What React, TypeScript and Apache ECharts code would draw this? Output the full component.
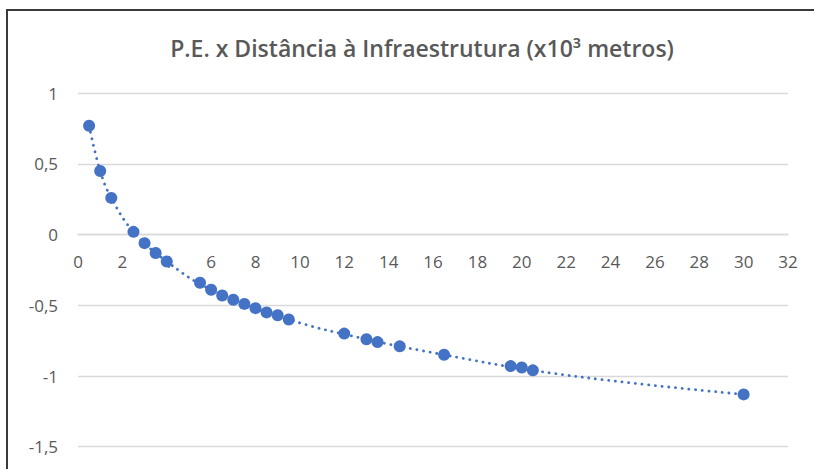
import React, { useEffect, useRef } from "react";
import * as echarts from "echarts";

const titleText = "P.E. x Distância à Infraestrutura (x10³ metros)";
const distances = [0.5, 1, 1.5, 2.5, 3, 3.5, 4, 5.5, 6, 6.5, 7, 7.5, 8, 8.5, 9, 9.5, 12, 13, 13.5, 14.5, 16.5, 19.5, 20, 20.5, 30];
const peValues = [0.77, 0.45, 0.26, 0.02, -0.06, -0.13, -0.19, -0.34, -0.39, -0.43, -0.46, -0.49, -0.52, -0.55, -0.57, -0.6, -0.7, -0.74, -0.76, -0.79, -0.85, -0.93, -0.94, -0.96, -1.13];
const trendX = [0.5, 1, 1.5, 2.5, 4, 6, 9.5, 13, 16.5, 20.5, 25, 30];
const trendY = [0.77, 0.45, 0.26, 0.02, -0.19, -0.39, -0.6, -0.74, -0.85, -0.96, -1.05, -1.13];
const yMin = -1.5;
const yMax = 1;

const points = distances.map((x, i) => [x, peValues[i]]);
const trend = trendX.map((x, i) => [x, trendY[i]]);

const fmt = (v: number) => String(v).replace(".", ",");

const GRID_TOP = 93.3;
const GRID_BOTTOM = 22.3;
const H = 469;

export default function App() {
  const ref = useRef<HTMLDivElement>(null);
  useEffect(() => {
    if (!ref.current) return;
    const chart = echarts.init(ref.current, undefined, { renderer: "svg" });
    const gridH = H - GRID_TOP - GRID_BOTTOM;
    const zeroOffset = -((0 - yMin) / (yMax - yMin)) * gridH;
    chart.setOption({
      animation: false,
      backgroundColor: "#ffffff",
      title: {
        text: titleText,
        left: 417,
        textAlign: "center",
        top: 31,
        textStyle: {
          fontFamily: "Open Sans",
          fontSize: 23,
          fontWeight: 600,
          color: "#595959",
        },
      },
      grid: { left: 78, right: 26, top: GRID_TOP, bottom: GRID_BOTTOM, containLabel: false, outerBoundsMode: "none" },
      xAxis: {
        type: "value",
        min: 0,
        max: 32,
        interval: 2,
        position: "bottom",
        offset: zeroOffset,
        axisLine: { show: true, onZero: false, lineStyle: { color: "#D9D9D9", width: 1.3 } },
        axisTick: { show: false },
        splitLine: { show: false },
        axisLabel: {
          margin: 18,
          color: "#595959",
          fontFamily: "Open Sans",
          fontSize: 17,
          formatter: (v: number) => fmt(v),
        },
      },
      yAxis: {
        type: "value",
        min: yMin,
        max: yMax,
        interval: 0.5,
        axisLine: { show: false },
        axisTick: { show: false },
        splitLine: { show: true, lineStyle: { color: "#D9D9D9", width: 1.3 } },
        axisLabel: {
          margin: 20,
          color: "#595959",
          fontFamily: "Open Sans",
          fontSize: 17,
          formatter: (v: number) => fmt(v),
        },
      },
      series: [
        {
          type: "line",
          data: trend,
          smooth: 0.4,
          symbol: "none",
          z: 1,
          lineStyle: { color: "#4472C4", width: 2.8, type: [0.1, 6.6], cap: "round" },
        },
        {
          type: "scatter",
          data: points,
          symbol: "circle",
          symbolSize: 12,
          z: 3,
          itemStyle: { color: "#4472C4", opacity: 1 },
        },
      ],
      graphic: [
        { type: "line", shape: { x1: 7, y1: 10, x2: 7, y2: 469 }, style: { stroke: "#3a3a3a", lineWidth: 2 } },
        { type: "line", shape: { x1: 6, y1: 10, x2: 814, y2: 10 }, style: { stroke: "#3a3a3a", lineWidth: 2 } },
      ],
    });
    return () => chart.dispose();
  }, []);
  return <div ref={ref} style={{ position: "fixed", left: 0, top: 0, width: 814, height: 469 }} />;
}
